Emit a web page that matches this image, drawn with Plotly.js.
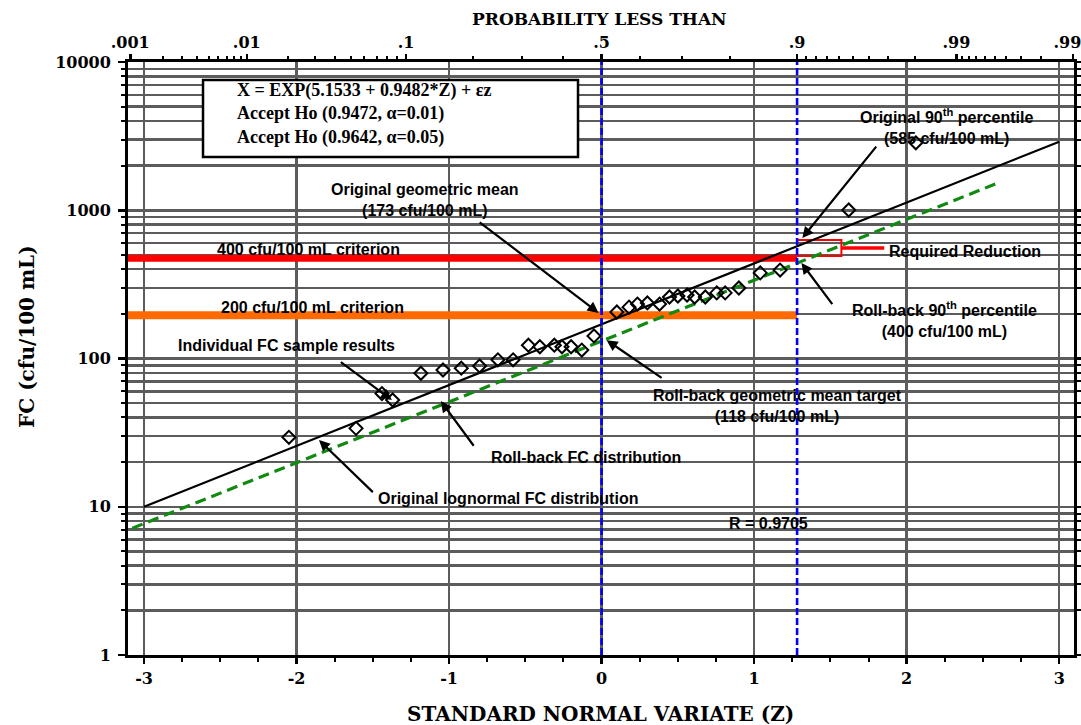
<!DOCTYPE html>
<html>
<head>
<meta charset="utf-8">
<script src="https://cdn.plot.ly/plotly-3.0.1.min.js"></script>
<style>html,body{margin:0;padding:0;background:#fff}#chart{width:1081px;height:725px}</style>
</head>
<body>
<div id="chart"></div>
<script>
// ---------- data ----------
// individual FC sample results (Z, FC cfu/100 mL)
const sampleZ  = [-2.05, -1.61, -1.44, -1.37, -1.185, -1.04, -0.92, -0.80, -0.68, -0.58, -0.48, -0.405, -0.31, -0.26, -0.20, -0.13, -0.05,
                  0.10, 0.18, 0.235, 0.30, 0.38, 0.445, 0.50, 0.56, 0.61, 0.68, 0.755, 0.81, 0.90, 1.04, 1.17, 1.62, 2.06];
const sampleFC = [29.4, 33.8, 58, 52.5, 79.5, 83.6, 86, 89, 98, 98, 123, 120, 123, 120, 120, 114, 142,
                  206, 222, 233, 237, 233, 260, 264, 268, 260, 260, 277, 277, 299, 378, 395, 1004, 2850];
// original lognormal FC distribution (fitted line, ends)
const origLineZ  = [-3.0, 3.0];
const origLineFC = [10.0, 2900];
// roll-back FC distribution (dashed green, ends)
const rollLineZ  = [-3.18, 2.6];
const rollLineFC = [6.5, 1530];
// criteria lines
const criterionNames = ['400 cfu/100 mL criterion', '200 cfu/100 mL criterion'];
const criterionFC    = [475, 196];
const criterionColor = ['#ff0000', '#ff6a00'];
const criterionWidth = [7, 8];
// reference probabilities drawn as blue dashed verticals
const refProbs = [0.5, 0.9];
// required-reduction bracket
const bracketZ  = [1.2816, 1.572, 1.572, 1.2816];
const bracketFC = [630, 630, 491, 491];
const reductionZ  = [1.572, 1.853];
const reductionFC = [556, 556];
// ticks
const bottomTickVals = [-3, -2, -1, 0, 1, 2, 3];
const bottomTickText = ['-3', '-2', '-1', '0', '1', '2', '3'];
const yTickVals = [1, 10, 100, 1000, 10000];
const yTickText = ['1', '10', '100', '1000', '10000'];
const topTickProbs = [0.001, 0.01, 0.1, 0.5, 0.9, 0.99, 0.999];
const topTickText  = ['.001', '.01', '.1', '.5', '.9', '.99', '.999'];
const topMinorProbs = [0.002,0.003,0.004,0.005,0.006,0.007,0.008,0.009,
                       0.02,0.03,0.04,0.05,0.06,0.07,0.08,0.09,
                       0.2,0.3,0.4,0.6,0.7,0.8,
                       0.91,0.92,0.93,0.94,0.95,0.96,0.97,0.98,
                       0.991,0.992,0.993,0.994,0.995,0.996,0.997,0.998];

// ---------- inverse normal CDF (probability scale of the top axis) ----------
function probit(p){
  const a=[-3.969683028665376e+01,2.209460984245205e+02,-2.759285104469687e+02,1.383577518672690e+02,-3.066479806614716e+01,2.506628277459239e+00];
  const b=[-5.447609879822406e+01,1.615858368580409e+02,-1.556989798598866e+02,6.680131188771972e+01,-1.328068155288572e+01];
  const c=[-7.784894002430293e-03,-3.223964580411365e-01,-2.400758277161838e+00,-2.549732539343734e+00,4.374664141464968e+00,2.938163982698783e+00];
  const d=[7.784695709041462e-03,3.224671290700398e-01,2.445134137142996e+00,3.754408661907416e+00];
  const pl=0.02425, ph=1-pl; let q,r;
  if(p<pl){q=Math.sqrt(-2*Math.log(p));return (((((c[0]*q+c[1])*q+c[2])*q+c[3])*q+c[4])*q+c[5])/((((d[0]*q+d[1])*q+d[2])*q+d[3])*q+1);}
  if(p<=ph){q=p-0.5;r=q*q;return (((((a[0]*r+a[1])*r+a[2])*r+a[3])*r+a[4])*r+a[5])*q/(((((b[0]*r+b[1])*r+b[2])*r+b[3])*r+b[4])*r+1);}
  q=Math.sqrt(-2*Math.log(1-p));return -(((((c[0]*q+c[1])*q+c[2])*q+c[3])*q+c[4])*q+c[5])/((((d[0]*q+d[1])*q+d[2])*q+d[3])*q+1);
}

const X_RANGE = [-3.105, 3.097];
const refZ = refProbs.map(probit);
const topTickZ = topTickProbs.map(probit);
const topMinorZ = topMinorProbs.map(probit);
const yMinor = [];
for (let dec = 1; dec < 10000; dec *= 10) for (let m = 2; m <= 9; m++) yMinor.push(m * dec);

const GRID = '#5c5c5c';
const serif = {family: 'DejaVu Serif, serif', size: 16, color: '#000', weight: 'bold'};
const sans = {family: 'Liberation Sans, Arial, sans-serif', size: 16, color: '#000', weight: 'bold'};

const traces = [];
// criteria bands
criterionFC.forEach((v, i) => traces.push({
  x: [X_RANGE[0], refZ[1]], y: [v, v], mode: 'lines', name: criterionNames[i],
  line: {color: criterionColor[i], width: criterionWidth[i]}, hoverinfo: 'skip', cliponaxis: true
}));
// required reduction bracket
traces.push({x: bracketZ, y: bracketFC, mode: 'lines', line: {color: '#ff0000', width: 2}, hoverinfo: 'skip'});
traces.push({x: reductionZ, y: reductionFC, mode: 'lines', line: {color: '#ff0000', width: 3.5}, hoverinfo: 'skip'});
// original lognormal line
traces.push({x: origLineZ, y: origLineFC, mode: 'lines', line: {color: '#000', width: 2.2}, name: 'Original'});
// roll-back line
traces.push({x: rollLineZ, y: rollLineFC, mode: 'lines', line: {color: '#118a11', width: 3.2, dash: '11px,6px'}, name: 'Roll-back', cliponaxis: false});
// samples
traces.push({x: sampleZ, y: sampleFC, mode: 'markers', name: 'Samples',
  marker: {symbol: 'diamond-open', size: 10, color: '#000', line: {width: 2, color: '#000'}}});
// blue dashed verticals
refZ.forEach(z => traces.push({x: [z, z], y: [yTickVals[0], yTickVals[yTickVals.length - 1]], mode: 'lines',
  line: {color: '#0000ff', width: 2.6, dash: '7px,3px'}, hoverinfo: 'skip'}));
// invisible trace to carry the top probability axis
traces.push({x: topTickZ, y: topTickZ.map(() => yTickVals[0]), xaxis: 'x2', mode: 'markers', marker: {opacity: 0}, hoverinfo: 'skip'});

function lg(v){ return Math.log10(v); }
function arrow(tailZ, tailFC, tipZ, tipFC){
  return {x: tipZ, y: lg(tipFC), ax: tailZ, ay: lg(tailFC), axref: 'x', ayref: 'y', xref: 'x', yref: 'y',
          text: ' ', showarrow: true, arrowhead: 2, arrowsize: 1, arrowwidth: 2.2, arrowcolor: '#000'};
}
function label(z, fc, text, extra){
  return Object.assign({x: z, y: lg(fc), xref: 'x', yref: 'y', text: text, showarrow: false, font: sans,
          xanchor: 'center', yanchor: 'middle', align: 'center'}, extra || {});
}

const annotations = [
  arrow(-0.819, 859, -0.02, 203),
  arrow(-1.729, 97.7, -1.375, 52.5),
  arrow(1.82, 2845, 1.316, 650),
  arrow(1.532, 219, 1.31, 441),
  arrow(0.413, 71.6, 0.033, 133),
  arrow(-0.819, 24.2, -1.054, 51.6),
  arrow(-1.48, 12.0, -1.853, 28.2),
  label(-1.159, Math.pow(10, 3.069), 'Original geometric mean<br>(173 cfu/100 mL)'),
  label(-1.919, Math.pow(10, 2.732), criterionNames[0]),
  label(-1.893, Math.pow(10, 2.341), criterionNames[1]),
  label(-2.063, Math.pow(10, 2.091), 'Individual FC sample results'),
  label(2.259, Math.pow(10, 3.568), 'Original 90<sup>th</sup> percentile<br>(585 cfu/100 mL)'),
  label(1.873, Math.pow(10, 2.725), 'Required Reduction', {xanchor: 'left'}),
  label(2.246, Math.pow(10, 2.26), 'Roll-back 90<sup>th</sup> percentile<br>(400 cfu/100 mL)'),
  label(1.153, Math.pow(10, 1.68), 'Roll-back geometric mean target<br>(118 cfu/100 mL)'),
  label(-0.105, Math.pow(10, 1.329), 'Roll-back FC distribution'),
  label(-0.616, Math.pow(10, 1.059), 'Original lognormal FC distribution'),
  label(1.094, Math.pow(10, 0.890), 'R = 0.9705'),
  // equation box text
  {xref: 'paper', yref: 'paper', x: 0.1131, y: 0.9118, xanchor: 'left', yanchor: 'middle', align: 'left', showarrow: false,
   text: 'X = EXP(5.1533 + 0.9482*Z) + εz<br>Accept Ho (0.9472, α=0.01)<br>Accept Ho (0.9642, α=0.05)',
   font: {family: 'Liberation Serif, serif', size: 18, color: '#000', weight: 'bold'}},
  // axis titles
  {xref: 'paper', yref: 'paper', x: 0.498, y: 1.0725, text: 'PROBABILITY LESS THAN', showarrow: false,
   font: Object.assign({}, serif, {size: 17}), xanchor: 'center', yanchor: 'middle'},
  {xref: 'paper', yref: 'paper', x: 0.499, y: -0.0995, text: 'STANDARD NORMAL VARIATE (Z)', showarrow: false,
   font: Object.assign({}, serif, {size: 20}), xanchor: 'center', yanchor: 'middle'},
  {xref: 'paper', yref: 'paper', x: -0.1068, y: 0.538, text: 'FC (cfu/100 mL)', showarrow: false, textangle: -90,
   font: Object.assign({}, serif, {size: 20}), xanchor: 'center', yanchor: 'middle'}
];

const layout = {
  width: 1081, height: 725,
  margin: {l: 128, r: 7, t: 62, b: 70},
  paper_bgcolor: '#fff', plot_bgcolor: '#fff',
  showlegend: false,
  xaxis: {
    range: X_RANGE, tickmode: 'array', tickvals: bottomTickVals, ticktext: bottomTickText,
    showgrid: true, gridcolor: GRID, gridwidth: 2.5, zeroline: false,
    showline: true, linecolor: '#000', linewidth: 3, ticks: 'outside', ticklen: 6, tickwidth: 2.5, tickcolor: '#000',
    tickfont: serif, ticklabelstandoff: 1,
    minor: {dtick: 0.25, tick0: 0, ticks: 'outside', ticklen: 4, tickwidth: 2, tickcolor: '#000', showgrid: false}
  },
  xaxis2: {
    overlaying: 'x', side: 'top', anchor: 'y', range: X_RANGE,
    tickmode: 'array', tickvals: topTickZ, ticktext: topTickText, ticklabeloverflow: 'allow',
    showgrid: false, zeroline: false, showline: true, linecolor: '#000', linewidth: 3,
    ticks: 'outside', ticklen: 5, tickwidth: 2.5, tickcolor: '#000', tickfont: serif, ticklabelstandoff: 0,
    minor: {tickmode: 'array', tickvals: topMinorZ, ticks: 'outside', ticklen: 3, tickwidth: 2, tickcolor: '#000', showgrid: false}
  },
  yaxis: {
    type: 'log', range: [0, 4], tickmode: 'array', tickvals: yTickVals, ticktext: yTickText,
    showgrid: true, gridcolor: GRID, gridwidth: 2.5, zeroline: false,
    showline: true, linecolor: '#000', linewidth: 3, mirror: 'ticks',
    ticks: 'outside', ticklen: 7, tickwidth: 2.5, tickcolor: '#000', tickfont: serif, ticklabelstandoff: 4,
    minor: {tickmode: 'array', tickvals: yMinor, ticks: 'outside', ticklen: 4, tickwidth: 2, tickcolor: '#000',
            showgrid: true, gridcolor: GRID, gridwidth: 2.5}
  },
  shapes: [
    {type: 'rect', xref: 'paper', yref: 'paper', x0: 0.0793, x1: 0.4757, y0: 0.8398, y1: 0.9696,
     line: {color: '#000', width: 2.5}, fillcolor: '#fff', layer: 'above'}
  ],
  annotations: annotations
};

Plotly.newPlot('chart', traces, layout, {displayModeBar: false, staticPlot: true});
</script>
</body>
</html>
